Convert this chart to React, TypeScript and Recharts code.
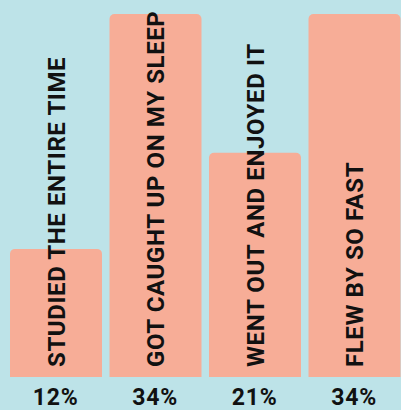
import React from "react";
import { BarChart, Bar, XAxis, YAxis, LabelList } from "recharts";

const categories = [
  "STUDIED THE ENTIRE TIME",
  "GOT CAUGHT UP ON MY SLEEP",
  "WENT OUT AND ENJOYED IT",
  "FLEW BY SO FAST",
];
const values = [12, 34, 21, 34];
const pctLabels = ["12%", "34%", "21%", "34%"];

const data = categories.map((c, i) => ({ name: c, value: values[i], pct: pctLabels[i] }));

const FONT = "Roboto, 'Noto Sans', sans-serif";

const BarText = (props: any) => {
  const { x, y, width, height, value } = props;
  const cx = x + width / 2;
  const by = y + height - 10;
  return (
    <g transform={`translate(${cx},${by}) rotate(-90)`}>
      <text
        x={0}
        y={0}
        dy={8.5}
        textAnchor="start"
        fontFamily={FONT}
        fontWeight={700}
        fontSize={24}
        letterSpacing={0.6}
        fill="#111111"
      >
        {value}
      </text>
    </g>
  );
};

const PctTick = (props: any) => {
  const { x, y, payload } = props;
  return (
    <text
      x={x}
      y={y}
      dy={28}
      textAnchor="middle"
      fontFamily={FONT}
      fontWeight={700}
      fontSize={23}
      letterSpacing={0.8}
      fill="#111111"
    >
      {payload.value}
    </text>
  );
};

export default function App() {
  return (
    <div
      style={{
        position: "fixed",
        left: 0,
        top: 0,
        width: 401,
        height: 410,
        overflow: "hidden",
        background: "#bde3e8",
      }}
    >
      <BarChart
        width={404}
        height={410}
        data={data}
        margin={{ top: 14, right: 0, left: 6, bottom: 0 }}
        barCategoryGap={0}
      >
        <YAxis hide domain={[0, 34]} />
        <XAxis
          dataKey="pct"
          axisLine={false}
          tickLine={false}
          tickSize={0}
          tickMargin={0}
          height={33}
          interval={0}
          tick={<PctTick />}
        />
        <Bar dataKey="value" fill="#f7ad97" barSize={92} radius={[5, 5, 0, 0]} isAnimationActive={false}>
          <LabelList dataKey="name" content={<BarText />} />
        </Bar>
      </BarChart>
    </div>
  );
}
